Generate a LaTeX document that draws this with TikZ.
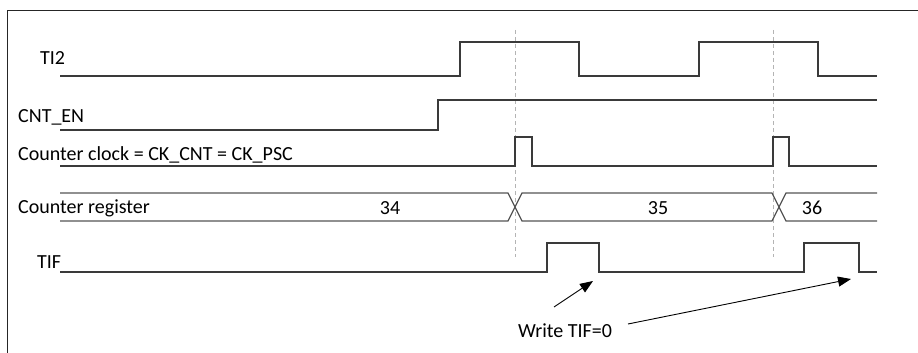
\documentclass[tikz,border=0pt]{standalone}
\usepackage{fontspec}
\setmainfont{Carlito}
\usetikzlibrary{arrows.meta}
\definecolor{sig}{HTML}{3A3A3A}
\definecolor{bus}{HTML}{555555}
\definecolor{guide}{HTML}{B4B4B4}
\tikzset{
  signal/.style={draw=sig, line width=1.2pt},
  busline/.style={draw=bus, line width=1.3pt},
  guideline/.style={draw=guide, line width=0.7pt, dash pattern=on 4pt off 3pt},
  frameline/.style={draw=black!85, line width=0.9pt},
  lbl/.style={inner sep=0pt, anchor=west, font=\fontsize{20}{22}\selectfont},
  val/.style={inner sep=0pt, font=\fontsize{20}{22}\selectfont},
  pointer/.style={draw=black, line width=0.9pt, -{Triangle[length=13pt,width=10pt]}}
}
\begin{document}
\begin{tikzpicture}[x=1pt,y=-1pt]
\useasboundingbox (0,0) rectangle (918,353);
\draw[frameline] (7,353) -- (7,10) -- (918,10);
% guide lines
\draw[guideline] (515,30) -- (515,257);
\draw[guideline] (773,30) -- (773,257);
% labels
\node[lbl] (lti) at (40,58) {TI2};
\node[lbl] (lcnt) at (18,117) {CNT\_EN};
\node[lbl] (lclk) at (18,155) {Counter clock = CK\_CNT = CK\_PSC};
\node[lbl] (lreg) at (18,208) {Counter register};
\node[lbl] (ltif) at (37,262) {TIF};
% TI2
\draw[signal] (60,76) -- (460,76) -- (460,42) -- (579,42) -- (579,76) -- (699,76) -- (699,42) -- (818,42) -- (818,76) -- (877,76);
% CNT_EN
\draw[signal] (60,130) -- (438,130) -- (438,100) -- (877,100);
% counter clock
\draw[signal] (60,166) -- (515,166) -- (515,137) -- (532,137) -- (532,166) -- (773,166) -- (773,137) -- (789,137) -- (789,166) -- (877,166);
% counter register
\draw[busline] (60,193) -- (508,193) -- (522,221) -- (772,221) -- (786,193) -- (877,193);
\draw[busline] (60,221) -- (508,221) -- (522,193) -- (772,193) -- (786,221) -- (877,221);
\node[val] (v34) at (390,208) {34};
\node[val] (v35) at (658,208) {35};
\node[val] (v36) at (812,208) {36};
% TIF
\draw[signal] (60,272) -- (547,272) -- (547,243) -- (599,243) -- (599,272) -- (804,272) -- (804,243) -- (859,243) -- (859,272) -- (877,272);
% write annotation
\node[val, anchor=west] (wr) at (518,331) {Write TIF=0};
\coordinate (s1) at (554,307);
\coordinate (e1) at (593,281);
\coordinate (s2) at (628,324);
\coordinate (e2) at (851,279);
\draw[pointer] (s1) -- (e1);
\draw[pointer] (s2) -- (e2);
\end{tikzpicture}
\end{document}
